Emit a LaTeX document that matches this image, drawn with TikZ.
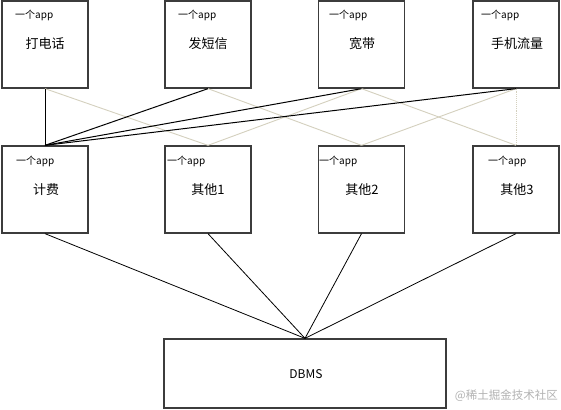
\documentclass[tikz,border=0pt]{standalone}
\usepackage{fontspec}
\setmainfont{Noto Sans CJK SC}
\begin{document}
\begin{tikzpicture}[x=1pt,y=-1pt,
  box/.style={draw=boxgray,line width=1.3pt,minimum width=86pt,minimum height=87pt,inner sep=0pt},
  apptag/.style={font=\fontsize{10}{10}\selectfont,inner sep=0pt,anchor=west},
  lbl/.style={font=\fontsize{13}{13}\selectfont,inner sep=0pt},
  blk/.style={draw=black,line width=1pt},
  lite/.style={draw=litecol,line width=0.9pt}]
\definecolor{boxgray}{RGB}{60,60,60}
\definecolor{litecol}{RGB}{212,208,190}
\useasboundingbox[fill=white] (0,0) rectangle (561,409);
% top row
\node[box] (t1) at (45,44.5) {};
\node[box] (t2) at (208,44.5) {};
\node[box] (t3) at (361.5,44.5) {};
\node[box] (t4) at (516,44.5) {};
% middle row
\node[box] (m1) at (45,189.5) {};
\node[box] (m2) at (208,189.5) {};
\node[box] (m3) at (361.5,189.5) {};
\node[box] (m4) at (516,189.5) {};
% dbms
\node[draw=boxgray,line width=1.3pt,minimum width=282pt,minimum height=69pt,inner sep=0pt] (db) at (305,373.5) {};
% tags
\node[apptag] (a1) at (15,15) {一个app};
\node[apptag] (a2) at (178,15) {一个app};
\node[apptag] (a3) at (329,15) {一个app};
\node[apptag] (a4) at (481,15) {一个app};
\node[apptag] (b1) at (16,161) {一个app};
\node[apptag] (b2) at (167,161) {一个app};
\node[apptag] (b3) at (319,161) {一个app};
\node[apptag] (b4) at (488,161) {一个app};
% labels
\node[lbl] (l1) at (45,44) {打电话};
\node[lbl] (l2) at (208,44) {发短信};
\node[lbl] (l3) at (362,44) {宽带};
\node[lbl] (l4) at (517,44) {手机流量};
\node[lbl] (k1) at (46,190) {计费};
\node[lbl] (k2) at (208,190) {其他1};
\node[lbl] (k3) at (362,190) {其他2};
\node[lbl] (k4) at (517,190) {其他3};
\node[font=\fontsize{12}{12}\selectfont,inner sep=0pt] (dbl) at (306,374) {DBMS};
\node[font=\fontsize{11.5}{11.5}\selectfont,text=gray!60,inner sep=0pt,anchor=east] (wm) at (558,396) {@稀土掘金技术社区};
% light connectors
\draw[lite] (t1.south) -- (m2.north);
\draw[lite] (t2.south) -- (m3.north);
\draw[lite] (t3.south) -- (m2.north);
\draw[lite] (t3.south) -- (m4.north);
\draw[lite] (t4.south) -- (m3.north);
\draw[lite,densely dotted] (t4.south) -- (m4.north);
% black connectors
\draw[blk] (t1.south) -- (m1.north);
\draw[blk] (t2.south) -- (m1.north);
\draw[blk] (t3.south) -- (m1.north);
\draw[blk] (t4.south) -- (m1.north);
% to dbms
\draw[blk,line width=0.8pt] (m1.south) -- (db.north);
\draw[blk,line width=0.8pt] (m2.south) -- (db.north);
\draw[blk,line width=0.8pt] (m3.south) -- (db.north);
\draw[blk,line width=0.8pt] (m4.south) -- (db.north);
\end{tikzpicture}
\end{document}
